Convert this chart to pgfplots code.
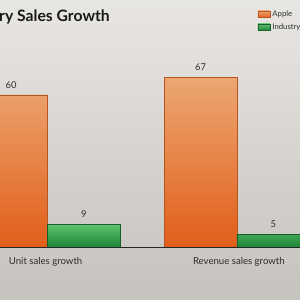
\documentclass[border=0pt]{standalone}
\usepackage{fontspec}
\setmainfont{Lato}
\usepackage{pgfplots}
\pgfplotsset{compat=1.18}
\definecolor{bgtop}{HTML}{E8E6E3}
\definecolor{bgbot}{HTML}{C6C2BD}
\definecolor{apptop}{HTML}{ECA772}
\definecolor{appbot}{HTML}{E15E1A}
\definecolor{appedge}{HTML}{B8541E}
\definecolor{indtop}{HTML}{5EC270}
\definecolor{indbot}{HTML}{1D8536}
\definecolor{indedge}{HTML}{17602A}
\definecolor{txt}{HTML}{2E2E2E}
\begin{document}
\begin{tikzpicture}
\useasboundingbox (0,0) rectangle (9cm,9cm);
\clip (0,0) rectangle (9cm,9cm);
\shade[top color=bgtop, bottom color=bgbot] (0,0) rectangle (9cm,9cm);
\node[anchor=west, font=\fontsize{13.4}{15}\selectfont\bfseries, text=black!90, inner sep=0pt] at (-0.03cm, 8.48cm) {ry Sales Growth};
\begin{axis}[
  at={(0cm,1.59cm)}, anchor=south west,
  scale only axis, width=9cm, height=7.41cm,
  xmin=-0.2507, xmax=1.3325, ymin=0, ymax=97.4,
  axis lines=none,
  clip=false,
  ybar=0pt, bar width=0.384,
  xtick={0,1},
  /pgf/number format/assume math mode=true,
  nodes near coords,
  every node near coord/.append style={font=\fontsize{8}{9}\selectfont, text=txt, yshift=2pt},
  legend style={at={(0.858,0.968)}, anchor=north west, draw=none, fill=none,
    font=\fontsize{6.6}{7.5}\selectfont, text=txt, row sep=0.8pt, inner sep=0pt},
  legend cell align=left,
  legend image code/.code={\fill[#1] (0cm,-0.1cm) rectangle (0.36cm,0.1cm);},
]
\addplot[draw=appedge, line width=0.4pt, top color=apptop, bottom color=appbot] coordinates {(0,60) (1,67)};
\addplot[draw=indedge, line width=0.4pt, top color=indtop, bottom color=indbot] coordinates {(0,9) (1,5)};
\legend{Apple, Industry}
\draw[black!85, line width=0.7pt] (axis cs:-0.3,0) -- (axis cs:1.4,0);
\node[font=\fontsize{8.2}{9}\selectfont, text=txt] at (axis cs:-0.01,-6.0) {Unit sales growth};
\node[font=\fontsize{8.2}{9}\selectfont, text=txt] at (axis cs:1.01,-6.0) {Revenue sales growth};
\end{axis}
\end{tikzpicture}
\end{document}
